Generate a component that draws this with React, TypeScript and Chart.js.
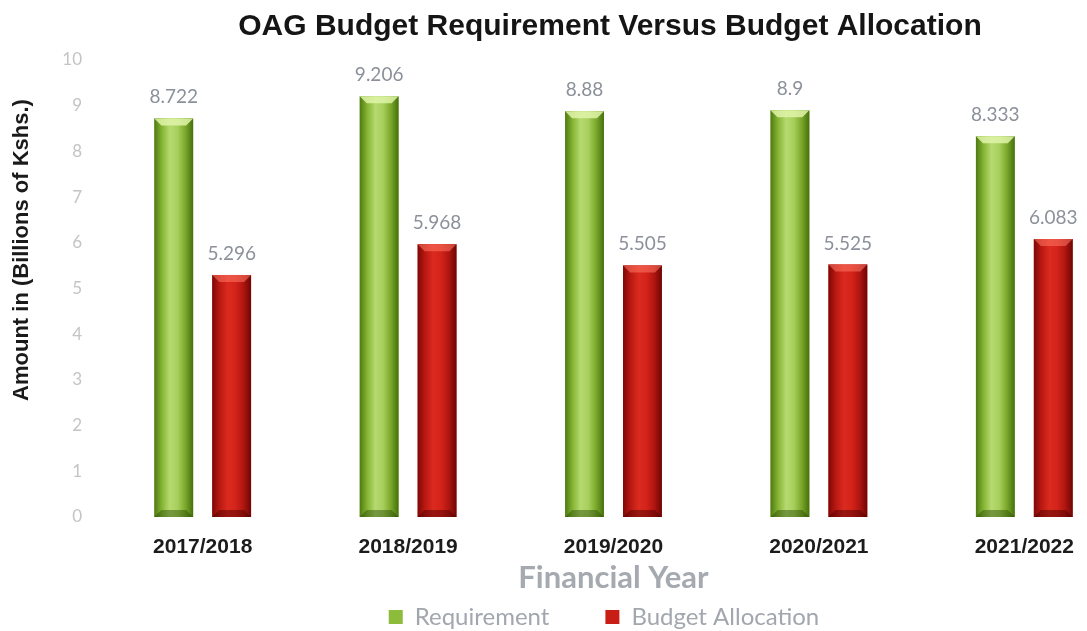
import React, { useEffect, useRef } from "react";
import { Chart, registerables } from "chart.js";

Chart.register(...registerables);

const categories = ["2017/2018", "2018/2019", "2019/2020", "2020/2021", "2021/2022"];
const requirement = [8.722, 9.206, 8.88, 8.9, 8.333];
const allocation = [5.296, 5.968, 5.505, 5.525, 6.083];
const seriesNames = ["Requirement", "Budget Allocation"];
const yMin = 0;
const yMax = 10;
const yStep = 1;

const CANVAS_W = 1220;
const CANVAS_H = 631;

const barStyles = [
  {
    stops: ["#4f7a12", "#86b634", "#b6d970", "#a7cf5c", "#7aa82a", "#45700e"],
    bevelTop: "rgba(225,245,170,0.85)",
    bevelBottom: "rgba(40,70,5,0.45)",
  },
  {
    stops: ["#7e0906", "#bb1912", "#db2a1f", "#d4231a", "#b01610", "#6e0604"],
    bevelTop: "rgba(255,120,100,0.55)",
    bevelBottom: "rgba(70,0,0,0.45)",
  },
];

const barPainter = {
  id: "barPainter",
  afterDatasetsDraw(chart: any) {
    const ctx = chart.ctx;
    chart.data.datasets.forEach((ds: any, di: number) => {
      const meta = chart.getDatasetMeta(di);
      const st = barStyles[di];
      meta.data.forEach((el: any, i: number) => {
        const { x, y, base, width } = el.getProps(["x", "y", "base", "width"], true);
        const left = x - width / 2;
        const right = x + width / 2;
        const top = Math.min(y, base);
        const bottom = Math.max(y, base);
        const g = ctx.createLinearGradient(left, 0, right, 0);
        const n = st.stops.length;
        st.stops.forEach((c: string, k: number) => g.addColorStop(k / (n - 1), c));
        ctx.save();
        ctx.fillStyle = g;
        ctx.fillRect(left, top, width, bottom - top);
        const b = 7;
        ctx.fillStyle = st.bevelTop;
        ctx.beginPath();
        ctx.moveTo(left, top);
        ctx.lineTo(right, top);
        ctx.lineTo(right - b, top + b);
        ctx.lineTo(left + b, top + b);
        ctx.closePath();
        ctx.fill();
        ctx.fillStyle = st.bevelBottom;
        ctx.beginPath();
        ctx.moveTo(left, bottom);
        ctx.lineTo(right, bottom);
        ctx.lineTo(right - b, bottom - b);
        ctx.lineTo(left + b, bottom - b);
        ctx.closePath();
        ctx.fill();
        ctx.restore();

        const v = ds.data[i];
        ctx.save();
        ctx.font = "19px Lato";
        ctx.fillStyle = "#8b909a";
        ctx.textAlign = "center";
        ctx.textBaseline = "alphabetic";
        ctx.fillText(String(v), x, top - 15);
        ctx.restore();
      });
    });
  },
};

export default function App() {
  const ref = useRef<HTMLCanvasElement | null>(null);

  useEffect(() => {
    if (!ref.current) return;
    const chart = new Chart(ref.current, {
      type: "bar",
      data: {
        labels: categories,
        datasets: [
          {
            label: seriesNames[0],
            data: requirement,
            backgroundColor: "#8dbb3c",
            borderWidth: 0,
            categoryPercentage: 0.564,
            barPercentage: 0.67,
          },
          {
            label: seriesNames[1],
            data: allocation,
            backgroundColor: "#c81e16",
            borderWidth: 0,
            categoryPercentage: 0.564,
            barPercentage: 0.67,
          },
        ],
      },
      options: {
        responsive: false,
        animation: false,
        devicePixelRatio: 1,
        layout: { padding: 0 },
        plugins: {
          title: {
            display: true,
            text: "OAG Budget Requirement Versus Budget Allocation",
            color: "#151515",
            font: { family: "Liberation Sans", size: 30, weight: "bold" },
            padding: { top: 9, bottom: 15 },
          },
          legend: {
            display: true,
            position: "bottom",
            maxHeight: 34,
            labels: {
              color: "#a2a6ae",
              font: { family: "Lato", size: 24 },
              boxWidth: 14,
              boxHeight: 14,
              padding: 8,
              generateLabels: (ch: any) => {
                const items = Chart.defaults.plugins.legend.labels.generateLabels(ch);
                items.forEach((it: any, idx: number) => {
                  if (idx === 0) it.text = it.text + "\u2003\u2003\u2002";
                  else it.text = it.text + "\u2002";
                });
                return items;
              },
            },
          },
          tooltip: { enabled: false },
        },
        scales: {
          x: {
            grid: { display: false, drawTicks: false },
            border: { display: false },
            ticks: {
              color: "#1c1c1c",
              font: { family: "Liberation Sans", size: 21, weight: "bold" },
              padding: 18,
            },
            title: {
              display: true,
              text: "Financial Year",
              color: "#a5a9b0",
              font: { family: "Lato", size: 31, weight: "bold" },
              padding: { top: 0, bottom: 0 },
            },
            afterFit: (s: any) => {
              s.height = 80;
            },
          },
          y: {
            min: yMin,
            max: yMax,
            grid: { display: false, drawTicks: false },
            border: { display: false },
            ticks: {
              stepSize: yStep,
              color: "#c4c4c4",
              font: { family: "Lato", size: 17 },
              padding: 18,
            },
            title: {
              display: true,
              text: "\u2003\u2003\u2003\u2002Amount in (Billions of Kshs.)",
              color: "#1a1a1a",
              font: { family: "Liberation Sans", size: 22, weight: "bold" },
              padding: { top: 9, bottom: 0 },
            },
            afterFit: (s: any) => {
              s.width = 100;
            },
          },
          yR: {
            type: "linear",
            position: "right",
            min: yMin,
            max: yMax,
            grid: { display: false, drawTicks: false },
            border: { display: false },
            ticks: { display: false },
            afterFit: (s: any) => {
              s.width = 93;
            },
          },
        },
      } as any,
      plugins: [barPainter],
    });
    return () => chart.destroy();
  }, []);

  return (
    <div
      style={{
        position: "fixed",
        left: 0,
        top: 0,
        width: 1087,
        height: 631,
        overflow: "hidden",
        background: "#ffffff",
      }}
    >
      <canvas
        ref={ref}
        width={CANVAS_W}
        height={CANVAS_H}
        style={{ display: "block", width: CANVAS_W, height: CANVAS_H }}
      />
    </div>
  );
}
